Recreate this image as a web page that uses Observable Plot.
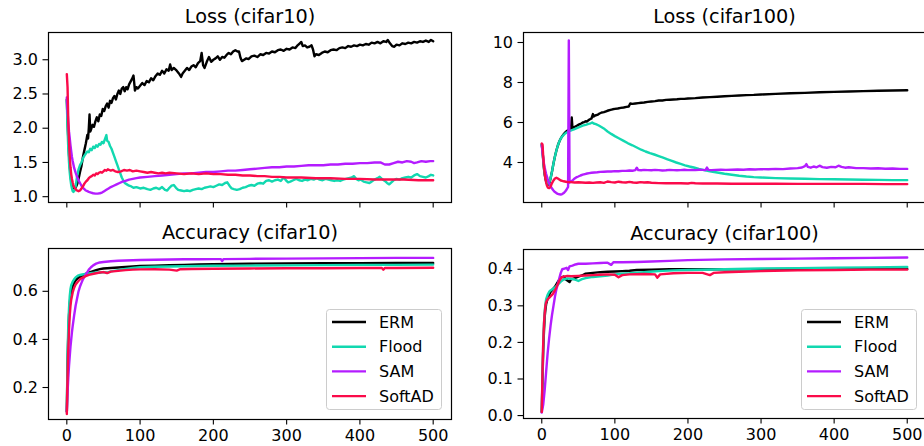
<!DOCTYPE html>
<html><head><meta charset="utf-8">
<script src="https://cdn.jsdelivr.net/npm/d3@7"></script>
<script src="https://cdn.jsdelivr.net/npm/@observablehq/plot@0.6"></script>
<style>
body{margin:0;background:#fff;}
#wrap{position:relative;width:924px;height:446px;overflow:hidden;font-family:"DejaVu Sans",sans-serif;background:#fff;}
#wrap svg.pp{position:absolute;overflow:visible;}
.legend{position:absolute;}
</style></head><body><div id="wrap"></div>
<script>
const methods = ["ERM","Flood","SAM","SoftAD"];
const colors = ["#000000","#12d8b0","#b41cff","#fb0a4a"];
const xTicks = [0,100,200,300,400,500];
const titles = ["Loss (cifar10)","Loss (cifar100)","Accuracy (cifar10)","Accuracy (cifar100)"];
const yTicksLossC10 = [1.0,1.5,2.0,2.5,3.0];
const yTicksLossC100 = [4,6,8,10];
const yTicksAccC10 = [0.2,0.4,0.6];
const yTicksAccC100 = [0.0,0.1,0.2,0.3,0.4];

// ---- Loss (cifar10): [epoch, value]
const lossC10_ERM = [[0,2.42],[1,2.1],[2,1.85],[3,1.62],[4,1.45],[5,1.33],[6,1.24],[7,1.18],[8,1.14],[10,1.12],[12,1.13],[14,1.18],[16,1.26],[18,1.36],[20,1.45],[22,1.58],[24,1.68],[26,1.78],[28,1.9],[29,1.85],[30,2.0],[31,2.2],[32,1.95],[33,1.98],[35,2.05],[37,2.02],[39,2.1],[41,2.16],[43,2.1],[45,2.2],[47,2.18],[49,2.28],[51,2.25],[53,2.32],[55,2.36],[57,2.3],[59,2.4],[61,2.37],[63,2.44],[65,2.47],[67,2.42],[69,2.5],[71,2.55],[73,2.5],[75,2.58],[77,2.6],[79,2.54],[81,2.6],[83,2.57],[85,2.64],[87,2.68],[89,2.72],[91,2.77],[93,2.55],[95,2.6],[97,2.58],[100,2.62],[103,2.66],[106,2.63],[109,2.69],[112,2.67],[115,2.73],[118,2.7],[121,2.76],[124,2.8],[127,2.78],[130,2.84],[133,2.8],[136,2.86],[139,2.84],[141,2.93],[143,2.85],[146,2.88],[150,2.84],[153,2.8],[156,2.75],[158,2.8],[161,2.84],[164,2.88],[167,2.85],[170,2.9],[173,2.92],[176,2.89],[179,2.95],[182,2.98],[184,3.1],[186,2.92],[188,2.88],[191,2.97],[194,3.04],[197,2.97],[200,3.0],[203,3.02],[206,3.05],[209,3.0],[212,3.04],[215,3.03],[218,3.07],[221,3.1],[224,3.08],[227,3.12],[230,3.14],[233,3.12],[235,3.12],[237,3.03],[239,2.98],[242,3.0],[245,3.02],[248,3.01],[252,3.05],[256,3.06],[260,3.04],[264,3.08],[268,3.07],[272,3.1],[276,3.09],[280,3.12],[284,3.11],[288,3.14],[292,3.15],[296,3.13],[300,3.16],[304,3.15],[308,3.18],[312,3.17],[315,3.21],[318,3.24],[320,3.26],[322,3.2],[325,3.21],[328,3.18],[331,3.19],[334,3.21],[336,3.15],[338,3.05],[340,3.08],[344,3.07],[348,3.1],[352,3.12],[356,3.11],[360,3.14],[364,3.15],[368,3.14],[372,3.17],[376,3.18],[380,3.17],[384,3.2],[388,3.19],[392,3.21],[396,3.2],[400,3.22],[404,3.21],[408,3.23],[412,3.22],[416,3.25],[420,3.24],[424,3.26],[428,3.24],[432,3.27],[436,3.26],[438,3.29],[441,3.24],[444,3.2],[447,3.19],[450,3.22],[454,3.21],[458,3.24],[462,3.23],[466,3.25],[470,3.24],[474,3.26],[478,3.25],[482,3.27],[486,3.26],[490,3.28],[494,3.26],[497,3.29],[500,3.27]];
const lossC10_Flood = [[0,2.4],[1,2.0],[2,1.7],[3,1.5],[4,1.35],[5,1.25],[6,1.17],[7,1.12],[8,1.08],[9,1.07],[10,1.08],[11,1.1],[12,1.15],[13,1.22],[14,1.3],[15,1.34],[16,1.4],[18,1.46],[20,1.5],[22,1.56],[24,1.6],[26,1.63],[28,1.66],[30,1.65],[32,1.7],[34,1.68],[36,1.73],[38,1.71],[40,1.75],[42,1.73],[44,1.77],[46,1.76],[48,1.8],[50,1.78],[52,1.84],[54,1.9],[55,1.82],[57,1.8],[59,1.74],[61,1.7],[63,1.64],[65,1.58],[67,1.52],[69,1.46],[71,1.4],[73,1.34],[75,1.28],[77,1.24],[79,1.2],[82,1.18],[85,1.16],[88,1.15],[91,1.13],[95,1.14],[100,1.12],[105,1.13],[110,1.11],[114,1.1],[118,1.12],[122,1.13],[126,1.11],[130,1.14],[134,1.1],[137,1.09],[140,1.13],[143,1.16],[146,1.17],[149,1.13],[152,1.1],[156,1.09],[160,1.08],[164,1.09],[168,1.08],[172,1.1],[176,1.11],[180,1.12],[184,1.11],[188,1.13],[192,1.14],[196,1.15],[200,1.14],[204,1.16],[208,1.18],[212,1.17],[216,1.2],[219,1.21],[222,1.16],[225,1.12],[228,1.11],[232,1.1],[236,1.11],[240,1.13],[244,1.14],[248,1.16],[252,1.17],[256,1.16],[260,1.19],[264,1.2],[268,1.19],[272,1.23],[276,1.24],[280,1.22],[284,1.24],[288,1.25],[292,1.23],[296,1.28],[299,1.24],[302,1.21],[305,1.22],[309,1.24],[313,1.26],[317,1.24],[321,1.23],[325,1.25],[329,1.24],[333,1.26],[337,1.25],[341,1.27],[345,1.25],[349,1.24],[353,1.26],[357,1.25],[361,1.24],[365,1.23],[369,1.24],[373,1.23],[377,1.25],[381,1.26],[385,1.27],[389,1.28],[392,1.3],[395,1.26],[398,1.24],[401,1.25],[405,1.22],[409,1.21],[413,1.2],[416,1.22],[420,1.25],[424,1.27],[427,1.29],[430,1.26],[434,1.23],[437,1.2],[440,1.18],[443,1.21],[446,1.24],[450,1.26],[454,1.25],[458,1.27],[462,1.28],[466,1.29],[470,1.28],[474,1.31],[478,1.33],[482,1.3],[486,1.29],[490,1.28],[494,1.3],[497,1.32],[500,1.31]];
const lossC10_SAM = [[0,2.45],[1,2.25],[2,2.08],[3,1.95],[4,1.85],[5,1.75],[6,1.66],[7,1.58],[8,1.52],[9,1.47],[10,1.42],[12,1.35],[14,1.29],[16,1.24],[18,1.2],[20,1.16],[22,1.13],[24,1.11],[26,1.09],[28,1.08],[30,1.07],[33,1.06],[36,1.05],[39,1.045],[42,1.045],[45,1.05],[48,1.06],[51,1.08],[54,1.1],[57,1.12],[60,1.14],[64,1.16],[68,1.18],[72,1.2],[76,1.22],[80,1.23],[85,1.25],[90,1.26],[95,1.27],[100,1.28],[110,1.29],[120,1.3],[130,1.31],[140,1.32],[150,1.33],[160,1.34],[170,1.34],[180,1.35],[190,1.36],[200,1.36],[210,1.37],[220,1.38],[230,1.38],[240,1.39],[250,1.4],[260,1.41],[270,1.42],[280,1.43],[290,1.43],[300,1.44],[310,1.44],[320,1.45],[330,1.46],[340,1.46],[350,1.46],[360,1.47],[370,1.47],[380,1.48],[390,1.48],[400,1.49],[410,1.49],[420,1.5],[428,1.5],[434,1.47],[440,1.47],[446,1.49],[452,1.51],[458,1.5],[464,1.52],[470,1.51],[474,1.49],[478,1.5],[484,1.52],[490,1.51],[496,1.52],[500,1.52]];
const lossC10_SoftAD = [[0,2.79],[1,2.6],[2,2.1],[3,1.8],[4,1.58],[5,1.43],[6,1.33],[7,1.26],[8,1.21],[9,1.17],[10,1.14],[12,1.11],[14,1.09],[16,1.08],[18,1.09],[20,1.12],[22,1.15],[24,1.19],[26,1.22],[28,1.24],[30,1.27],[32,1.29],[34,1.3],[36,1.32],[38,1.31],[40,1.34],[42,1.33],[44,1.35],[46,1.36],[48,1.35],[50,1.37],[52,1.39],[54,1.38],[56,1.4],[58,1.39],[60,1.38],[63,1.39],[66,1.37],[70,1.36],[74,1.37],[78,1.39],[82,1.38],[86,1.39],[90,1.37],[95,1.38],[100,1.37],[105,1.36],[110,1.35],[115,1.36],[120,1.35],[125,1.34],[130,1.35],[135,1.34],[140,1.35],[150,1.34],[160,1.33],[170,1.34],[180,1.33],[190,1.34],[200,1.33],[210,1.33],[220,1.32],[230,1.32],[240,1.31],[250,1.31],[260,1.3],[270,1.3],[280,1.29],[290,1.29],[300,1.28],[320,1.28],[340,1.27],[360,1.27],[380,1.26],[400,1.26],[420,1.25],[440,1.25],[460,1.25],[480,1.24],[500,1.24]];

// ---- Loss (cifar100)
const lossC100_ERM = [[0,4.9],[1,4.6],[2,4.1],[3,3.7],[4,3.4],[5,3.2],[6,3.05],[7,2.95],[8,2.9],[9,2.9],[10,2.95],[11,3.05],[12,3.2],[14,3.55],[16,3.95],[18,4.3],[20,4.6],[22,4.85],[24,5.05],[26,5.2],[28,5.32],[30,5.42],[32,5.5],[34,5.56],[36,5.62],[38,5.66],[40,5.7],[41,6.25],[42,5.72],[44,5.76],[46,5.8],[48,5.84],[50,5.88],[52,5.92],[54,5.95],[56,6.0],[58,6.02],[60,6.06],[62,6.05],[64,6.12],[66,6.16],[68,6.2],[70,6.42],[71,6.3],[73,6.35],[76,6.38],[79,6.45],[82,6.5],[85,6.52],[88,6.56],[91,6.6],[94,6.63],[97,6.66],[100,6.68],[104,6.7],[108,6.73],[112,6.75],[116,6.78],[119,6.8],[121,6.95],[124,6.93],[128,6.95],[132,6.97],[136,6.99],[140,7.0],[145,7.03],[150,7.05],[155,7.07],[160,7.1],[165,7.1],[170,7.13],[175,7.14],[180,7.15],[185,7.16],[190,7.18],[195,7.18],[200,7.2],[210,7.22],[220,7.25],[230,7.27],[240,7.29],[250,7.31],[260,7.33],[270,7.35],[280,7.37],[290,7.38],[300,7.4],[320,7.43],[340,7.46],[360,7.48],[380,7.51],[400,7.53],[420,7.55],[440,7.57],[460,7.59],[480,7.6],[500,7.61]];
const lossC100_Flood = [[0,4.9],[1,4.6],[2,4.15],[3,3.75],[4,3.45],[5,3.25],[6,3.1],[7,3.0],[8,2.95],[9,2.95],[10,3.0],[11,3.08],[12,3.2],[14,3.55],[16,3.95],[18,4.3],[20,4.6],[22,4.85],[24,5.05],[26,5.2],[28,5.3],[30,5.38],[32,5.45],[34,5.5],[36,5.54],[38,5.58],[40,5.6],[44,5.66],[48,5.72],[52,5.78],[56,5.84],[60,5.88],[64,5.93],[67,5.96],[69,6.0],[71,5.95],[74,5.92],[78,5.85],[82,5.76],[86,5.67],[90,5.55],[95,5.43],[100,5.32],[106,5.2],[112,5.08],[118,4.96],[124,4.86],[130,4.75],[136,4.64],[142,4.55],[148,4.47],[154,4.4],[160,4.32],[166,4.24],[172,4.16],[178,4.08],[184,4.0],[190,3.93],[196,3.86],[202,3.8],[208,3.75],[215,3.68],[222,3.62],[230,3.56],[240,3.5],[250,3.44],[260,3.39],[270,3.34],[280,3.3],[290,3.27],[300,3.25],[320,3.22],[340,3.2],[360,3.19],[380,3.17],[400,3.16],[420,3.15],[440,3.14],[460,3.13],[480,3.12],[500,3.12]];
const lossC100_SAM = [[0,4.85],[1,4.5],[2,4.2],[3,3.95],[4,3.75],[5,3.58],[6,3.42],[8,3.18],[10,2.98],[12,2.82],[14,2.7],[16,2.6],[18,2.52],[20,2.47],[22,2.43],[24,2.41],[26,2.4],[28,2.42],[30,2.47],[32,2.55],[34,2.65],[36,2.78],[37,10.1],[38,3.0],[40,3.05],[42,3.1],[44,3.17],[46,3.22],[48,3.27],[50,3.3],[53,3.35],[56,3.39],[59,3.42],[62,3.45],[65,3.47],[68,3.49],[72,3.5],[76,3.51],[80,3.53],[85,3.54],[90,3.55],[95,3.55],[100,3.57],[105,3.56],[110,3.58],[115,3.58],[120,3.6],[125,3.59],[128,3.62],[130,3.74],[132,3.62],[136,3.61],[140,3.63],[145,3.62],[150,3.61],[155,3.63],[160,3.62],[165,3.6],[170,3.61],[175,3.63],[180,3.62],[185,3.61],[190,3.62],[195,3.64],[200,3.62],[205,3.63],[210,3.62],[215,3.64],[220,3.63],[224,3.62],[226,3.75],[228,3.63],[232,3.62],[238,3.63],[245,3.64],[252,3.63],[260,3.64],[268,3.65],[276,3.64],[284,3.66],[292,3.65],[300,3.67],[310,3.66],[320,3.68],[330,3.67],[340,3.7],[350,3.72],[356,3.75],[360,3.82],[362,3.92],[364,3.78],[368,3.74],[372,3.8],[376,3.76],[380,3.84],[384,3.77],[390,3.74],[396,3.78],[402,3.76],[406,3.84],[410,3.78],[415,3.74],[420,3.76],[430,3.72],[440,3.72],[450,3.7],[460,3.71],[470,3.69],[480,3.7],[490,3.68],[500,3.68]];
const lossC100_SoftAD = [[0,4.95],[1,4.9],[2,4.3],[3,3.8],[4,3.45],[5,3.2],[6,3.0],[7,2.85],[8,2.77],[9,2.73],[10,2.72],[11,2.74],[12,2.8],[13,2.88],[14,2.97],[16,3.1],[18,3.2],[20,3.24],[22,3.2],[24,3.15],[26,3.1],[28,3.08],[30,3.06],[33,3.04],[36,3.02],[40,3.02],[45,3.0],[50,3.01],[55,3.0],[60,2.99],[65,3.0],[70,2.98],[75,3.0],[80,3.01],[85,2.98],[90,3.05],[95,3.02],[100,3.0],[105,3.04],[110,3.01],[115,3.0],[120,3.03],[125,3.0],[130,2.99],[135,3.02],[140,3.0],[145,3.01],[150,2.99],[160,2.97],[170,2.96],[180,2.97],[190,2.96],[200,2.95],[205,2.98],[210,2.96],[220,2.95],[240,2.95],[260,2.94],[280,2.94],[300,2.94],[320,2.94],[350,2.93],[380,2.93],[410,2.93],[440,2.93],[470,2.92],[500,2.92]];

// ---- Accuracy (cifar10)
const accC10_ERM = [[0,0.1],[1,0.3],[2,0.42],[3,0.5],[4,0.55],[5,0.58],[6,0.6],[8,0.62],[10,0.635],[12,0.645],[15,0.655],[18,0.66],[21,0.665],[25,0.672],[30,0.678],[35,0.683],[40,0.688],[45,0.692],[50,0.695],[60,0.697],[70,0.699],[80,0.701],[90,0.703],[100,0.705],[120,0.707],[140,0.709],[160,0.71],[180,0.712],[200,0.713],[250,0.715],[300,0.716],[350,0.717],[400,0.717],[450,0.718],[500,0.718]];
const accC10_Flood = [[0,0.1],[1,0.33],[2,0.46],[3,0.53],[4,0.58],[5,0.61],[6,0.625],[8,0.64],[10,0.65],[12,0.658],[15,0.665],[18,0.668],[21,0.67],[25,0.672],[30,0.674],[35,0.676],[40,0.678],[45,0.677],[50,0.68],[55,0.678],[60,0.683],[70,0.688],[80,0.693],[90,0.697],[100,0.7],[120,0.702],[140,0.703],[160,0.704],[180,0.705],[200,0.706],[250,0.707],[300,0.708],[350,0.709],[400,0.71],[450,0.71],[500,0.711]];
const accC10_SAM = [[0,0.1],[1,0.18],[2,0.24],[3,0.29],[4,0.33],[5,0.37],[6,0.4],[7,0.43],[8,0.455],[10,0.5],[12,0.54],[14,0.57],[16,0.6],[18,0.62],[20,0.635],[22,0.65],[24,0.66],[26,0.67],[28,0.68],[30,0.69],[33,0.7],[36,0.708],[40,0.715],[45,0.72],[50,0.722],[60,0.725],[70,0.727],[80,0.728],[90,0.729],[100,0.73],[120,0.731],[140,0.732],[160,0.733],[180,0.733],[200,0.734],[210,0.734],[212,0.726],[214,0.734],[250,0.735],[300,0.736],[350,0.737],[400,0.738],[450,0.739],[500,0.739]];
const accC10_SoftAD = [[0,0.09],[1,0.25],[2,0.36],[3,0.44],[4,0.5],[5,0.54],[6,0.565],[8,0.595],[10,0.615],[12,0.628],[15,0.64],[18,0.65],[21,0.656],[25,0.662],[30,0.668],[35,0.672],[40,0.675],[45,0.678],[50,0.68],[55,0.676],[60,0.682],[70,0.685],[80,0.688],[90,0.69],[100,0.691],[120,0.692],[140,0.69],[150,0.686],[155,0.692],[170,0.693],[200,0.694],[250,0.695],[300,0.696],[350,0.696],[400,0.697],[430,0.697],[432,0.69],[434,0.697],[450,0.697],[500,0.698]];

// ---- Accuracy (cifar100)
const accC100_ERM = [[0,0.01],[1,0.1],[2,0.18],[3,0.23],[4,0.27],[5,0.29],[6,0.305],[8,0.32],[10,0.33],[12,0.338],[15,0.345],[18,0.352],[21,0.362],[24,0.372],[27,0.378],[30,0.38],[33,0.372],[36,0.368],[38,0.365],[40,0.372],[45,0.376],[50,0.38],[55,0.383],[60,0.388],[70,0.39],[80,0.392],[90,0.393],[100,0.394],[110,0.395],[120,0.396],[130,0.398],[150,0.399],[175,0.4],[200,0.4],[250,0.4],[300,0.4],[350,0.401],[400,0.401],[450,0.401],[500,0.401]];
const accC100_Flood = [[0,0.01],[1,0.11],[2,0.2],[3,0.25],[4,0.285],[5,0.305],[6,0.318],[8,0.33],[10,0.338],[12,0.342],[15,0.346],[18,0.35],[21,0.356],[24,0.362],[27,0.368],[30,0.372],[35,0.375],[40,0.374],[45,0.372],[50,0.368],[55,0.373],[60,0.376],[70,0.379],[80,0.381],[90,0.383],[100,0.386],[110,0.388],[120,0.389],[140,0.392],[160,0.395],[180,0.397],[200,0.398],[250,0.4],[300,0.402],[350,0.403],[400,0.404],[450,0.405],[500,0.406]];
const accC100_SAM = [[0,0.008],[2,0.03],[4,0.07],[6,0.12],[8,0.17],[10,0.21],[12,0.245],[14,0.275],[16,0.3],[18,0.325],[20,0.345],[22,0.36],[24,0.375],[26,0.39],[28,0.4],[31,0.402],[34,0.404],[36,0.398],[38,0.408],[42,0.41],[46,0.413],[50,0.415],[60,0.415],[70,0.416],[80,0.417],[90,0.418],[95,0.412],[98,0.419],[110,0.419],[130,0.42],[150,0.421],[175,0.423],[200,0.425],[250,0.427],[300,0.428],[350,0.429],[400,0.43],[450,0.431],[500,0.432]];
const accC100_SoftAD = [[0,0.01],[1,0.12],[2,0.2],[3,0.25],[4,0.28],[5,0.3],[6,0.31],[8,0.318],[10,0.322],[12,0.326],[15,0.332],[18,0.342],[21,0.355],[24,0.368],[27,0.378],[30,0.38],[35,0.382],[40,0.381],[50,0.382],[60,0.383],[70,0.384],[80,0.385],[90,0.386],[100,0.385],[105,0.378],[110,0.384],[120,0.386],[140,0.387],[155,0.386],[158,0.377],[162,0.386],[180,0.389],[200,0.39],[220,0.39],[230,0.384],[235,0.39],[250,0.392],[300,0.395],[350,0.397],[400,0.398],[450,0.399],[500,0.399]];

const panels = [
  {title: titles[0], series: [lossC10_ERM, lossC10_Flood, lossC10_SAM, lossC10_SoftAD], yDomain: [0.915, 3.398], yTicks: yTicksLossC10, fmt: d3.format(".1f"), left: 0, top: 0, width: 462, height: 215, m: [32, 11, 13, 48], xLabels: false, legend: null},
  {title: titles[1], series: [lossC100_ERM, lossC100_Flood, lossC100_SAM, lossC100_SoftAD], yDomain: [2.0, 10.5], yTicks: yTicksLossC100, fmt: d3.format("d"), left: 462, top: 0, width: 470, height: 215, m: [32, 7, 13, 61], xLabels: false, legend: null},
  {title: titles[2], series: [accC10_ERM, accC10_Flood, accC10_SAM, accC10_SoftAD], yDomain: [0.067, 0.778], yTicks: yTicksAccC10, fmt: d3.format(".1f"), left: 0, top: 215, width: 462, height: 231, m: [33, 11, 27, 48], xLabels: true, legend: [326, 309]},
  {title: titles[3], series: [accC100_ERM, accC100_Flood, accC100_SAM, accC100_SoftAD], yDomain: [-0.008, 0.454], yTicks: yTicksAccC100, fmt: d3.format(".1f"), left: 462, top: 215, width: 470, height: 231, m: [34, 7, 28, 61], xLabels: true, legend: [801, 309]}
];

const wrap = document.getElementById("wrap");
const font = "'DejaVu Sans', sans-serif";

for (const p of panels) {
  const rows = methods.flatMap((name, i) => p.series[i].map(([epoch, value]) => ({epoch, value, method: name})));
  const svg = Plot.plot({
    width: p.width, height: p.height,
    marginTop: p.m[0], marginRight: p.m[1], marginBottom: p.m[2], marginLeft: p.m[3],
    x: {domain: [-25, 525]},
    y: {domain: p.yDomain},
    color: {domain: methods, range: colors},
    style: {fontFamily: font, fontSize: "16px", color: "#000", background: "transparent", overflow: "visible"},
    marks: [
      Plot.line(rows, {x: "epoch", y: "value", z: "method", stroke: "method", strokeWidth: 2.4, strokeLinejoin: "round", clip: true}),
      Plot.frame({stroke: "#000", strokeWidth: 1.2}),
      Plot.axisY({ticks: p.yTicks, tickSize: 5.5, tickPadding: 5, tickFormat: p.fmt, fontSize: 16, strokeWidth: 1.1, label: null}),
      Plot.axisX({ticks: xTicks, tickSize: 5.5, tickPadding: 5, tickFormat: p.xLabels ? d3.format("d") : () => "", fontSize: 16, strokeWidth: 1.1, label: null}),
      Plot.text([p.title], {frameAnchor: "top", dy: -9.5, lineAnchor: "bottom", fontSize: 19.3, fill: "#000"})
    ]
  });
  svg.classList.add("pp");
  svg.style.left = p.left + "px";
  svg.style.top = p.top + "px";
  wrap.appendChild(svg);

  if (p.legend) {
    const W = 116, H = 101;
    const lg = d3.create("svg").attr("class", "legend").attr("width", W).attr("height", H)
      .style("left", p.legend[0] + "px").style("top", p.legend[1] + "px");
    lg.append("rect").attr("x", 0.5).attr("y", 0.5).attr("width", W - 1).attr("height", H - 1)
      .attr("rx", 3).attr("fill", "rgba(255,255,255,0.8)").attr("stroke", "#cccccc").attr("stroke-width", 1);
    methods.forEach((name, i) => {
      const cy = 13 + i * 24.7;
      lg.append("line").attr("x1", 6).attr("x2", 40).attr("y1", cy).attr("y2", cy)
        .attr("stroke", colors[i]).attr("stroke-width", 2.4);
      lg.append("text").attr("x", 53).attr("y", cy).attr("dy", "0.36em").attr("text-anchor", "start")
        .attr("font-family", font).attr("font-size", 16).attr("fill", "#000").text(name);
    });
    wrap.appendChild(lg.node());
  }
}
</script></body></html>
